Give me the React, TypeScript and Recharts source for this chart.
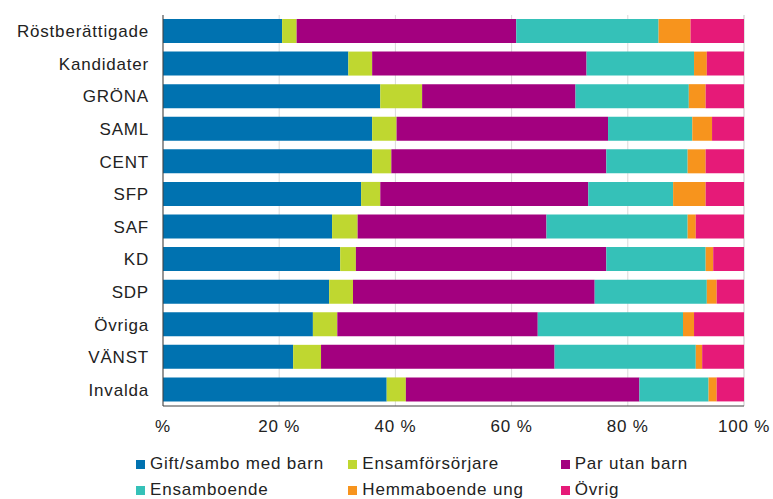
import React from "react";
import { Bar, BarChart, CartesianGrid, Legend, XAxis, YAxis } from "recharts";

const categories = [
  "Röstberättigade",
  "Kandidater",
  "GRÖNA",
  "SAML",
  "CENT",
  "SFP",
  "SAF",
  "KD",
  "SDP",
  "Övriga",
  "VÄNST",
  "Invalda",
];

const giftMedBarn = [20.5, 31.9, 37.4, 36.0, 36.0, 34.1, 29.1, 30.5, 28.6, 25.8, 22.4, 38.5];
const ensamforsorjare = [2.5, 4.1, 7.2, 4.2, 3.3, 3.3, 4.4, 2.7, 4.1, 4.2, 4.8, 3.3];
const parUtanBarn = [37.8, 36.9, 26.4, 36.4, 37.0, 35.8, 32.5, 43.1, 41.6, 34.5, 40.2, 40.2];
const ensamboende = [24.5, 18.5, 19.5, 14.5, 14.0, 14.6, 24.3, 17.1, 19.3, 25.0, 24.3, 11.9];
const hemmaboendeUng = [5.5, 2.2, 2.9, 3.4, 3.1, 5.6, 1.4, 1.3, 1.7, 1.9, 1.1, 1.4];
const ovrig = [9.2, 6.4, 6.6, 5.5, 6.6, 6.6, 8.3, 5.3, 4.7, 8.6, 7.2, 4.7];

const xTicks = [0, 20, 40, 60, 80, 100];

const series = [
  { key: "gift", name: "Gift/sambo med barn", color: "#0072B0", values: giftMedBarn },
  { key: "ensamf", name: "Ensamförsörjare", color: "#BFD730", values: ensamforsorjare },
  { key: "par", name: "Par utan barn", color: "#A3007F", values: parUtanBarn },
  { key: "ensamb", name: "Ensamboende", color: "#35C1B8", values: ensamboende },
  { key: "hemma", name: "Hemmaboende ung", color: "#F7941D", values: hemmaboendeUng },
  { key: "ovrig", name: "Övrig", color: "#E61A78", values: ovrig },
];

const data = categories.map((name, i) => {
  const row: Record<string, string | number> = { name };
  series.forEach((s) => {
    row[s.key] = s.values[i];
  });
  return row;
});

const FONT = "'Liberation Sans', Arial, sans-serif";
const textStyle = { fontSize: 17, fill: "#222", fontFamily: FONT, letterSpacing: 0.8 };

// order: row 1 = first three, row 2 = last three
const legendRows = [series.slice(0, 3), series.slice(3, 6)];

function renderLegend() {
  return (
    <div style={{ width: 773, height: 52, paddingTop: 4, boxSizing: "border-box", fontFamily: FONT }}>
      {legendRows.map((row, r) => (
        <div key={r} style={{ display: "flex", height: 26, alignItems: "center", paddingLeft: 136 }}>
          {row.map((s) => (
            <div key={s.key} style={{ width: 221, display: "flex", alignItems: "center" }}>
              <span style={{ width: 9, height: 9, background: s.color, marginRight: 5, display: "inline-block" }} />
              <span style={{ fontSize: 17, color: "#222", letterSpacing: 0.8 }}>{s.name}</span>
            </div>
          ))}
        </div>
      ))}
    </div>
  );
}

export default function App() {
  return (
    <div style={{ position: "absolute", left: 0, top: 0, background: "#fff" }}>
      <BarChart
        width={773}
        height={499}
        data={data}
        layout="vertical"
        barSize={24}
        margin={{ top: 15, right: 29, left: 0, bottom: 0 }}
      >
        <CartesianGrid horizontal={false} stroke="#d9d9d9" />
        <XAxis
          type="number"
          domain={[0, 100]}
          ticks={xTicks}
          interval={0}
          tickFormatter={(v: number) => (v === 0 ? "%" : `${v} %`)}
          tick={textStyle}
          tickSize={0}
          tickMargin={14}
          axisLine={{ stroke: "#404040" }}
          height={41}
        />
        <YAxis
          type="category"
          dataKey="name"
          tick={textStyle}
          tickSize={0}
          tickMargin={14}
          axisLine={{ stroke: "#404040" }}
          width={163}
          interval={0}
        />
        <Legend verticalAlign="bottom" content={renderLegend} wrapperStyle={{ left: 0, bottom: 0, width: 773 }} />
        {series.map((s) => (
          <Bar key={s.key} dataKey={s.key} name={s.name} stackId="a" fill={s.color} isAnimationActive={false} />
        ))}
      </BarChart>
    </div>
  );
}
